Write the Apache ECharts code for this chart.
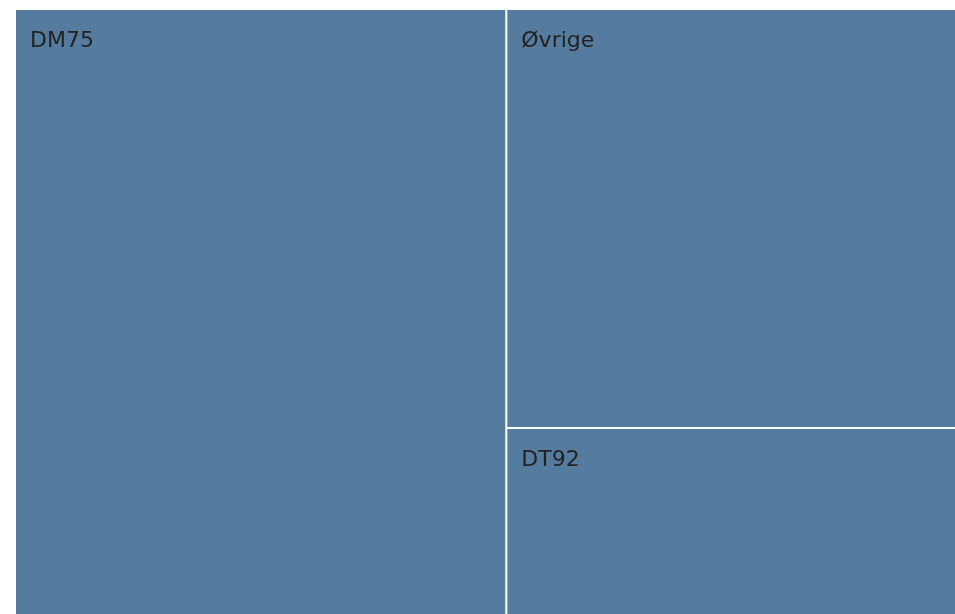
<!DOCTYPE html>
<html>
<head>
<meta charset="utf-8">
<script src="https://cdn.jsdelivr.net/npm/echarts@6/dist/echarts.min.js"></script>
<style>
  html, body { margin: 0; padding: 0; background: #fff; }
  #treemap { width: 955px; height: 614px; }
</style>
</head>
<body>
<div id="treemap"></div>
<script>
let names = ['DM75', 'Øvrige', 'DT92'];
let values = [52.1, 32.9, 15.0];

let chartDom = document.getElementById('treemap');
let chart = echarts.init(chartDom);

let option = {
  backgroundColor: '#ffffff',
  series: [
    {
      type: 'treemap',
      left: 14,
      top: 8,
      width: 945,
      height: 612,
      roam: false,
      nodeClick: false,
      breadcrumb: { show: false },
      itemStyle: {
        borderColor: '#ffffff',
        borderWidth: 1,
        gapWidth: 0
      },
      label: {
        show: true,
        position: 'insideTopLeft',
        distance: 0,
        padding: [20, 0, 0, 14],
        color: '#222222',
        fontFamily: 'DejaVu Sans',
        fontSize: 22
      },
      data: names.map(function (n, i) {
        return { name: n, value: values[i], itemStyle: { color: '#557b9f' } };
      })
    }
  ]
};

option && chart.setOption(option);
</script>
</body>
</html>
